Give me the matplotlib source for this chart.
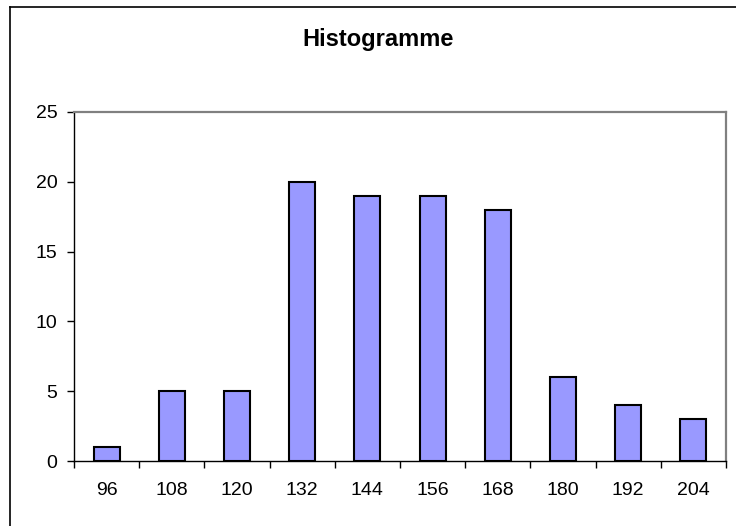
import numpy as np
import matplotlib.pyplot as plt
from matplotlib.lines import Line2D

plt.rcParams['font.family'] = ['Liberation Sans', 'DejaVu Sans']

classes = ['96', '108', '120', '132', '144', '156', '168', '180', '192', '204']
effectifs = [1, 5, 5, 20, 19, 19, 18, 6, 4, 3]

fig = plt.figure(figsize=(7.36, 5.26), dpi=100)
ax = fig.add_axes([74/736, 1 - 461/526, (726 - 74)/736, (461 - 112)/526])

x = np.arange(len(classes))
ax.bar(x, effectifs, width=0.4, color='#9999FF', edgecolor='black', linewidth=1.5, zorder=3)

ax.set_xlim(-0.5, len(classes) - 0.5)
ax.set_ylim(0, 25)
ax.set_yticks(np.arange(0, 26, 5))
ax.set_xticks(x)
ax.set_xticklabels(classes)
ax.set_xticks(np.arange(-0.5, len(classes), 1), minor=True)
ax.tick_params(axis='x', which='major', length=0, pad=15, labelsize=14)
ax.tick_params(axis='x', which='minor', length=5, width=1, direction='out')
ax.tick_params(axis='y', length=5, width=1, pad=7, labelsize=14)

for s in ['left', 'bottom']:
    ax.spines[s].set_color('black')
    ax.spines[s].set_linewidth(1)
for s in ['top', 'right']:
    ax.spines[s].set_color('#808080')
    ax.spines[s].set_linewidth(1.6)

fig.text(378/736, 1 - 46/526, 'Histogramme', ha='center', va='baseline',
         fontsize=17, fontweight='bold')

# cadre du graphique (coupe a droite et en bas)
fig.add_artist(Line2D([10/736, 1], [1 - 7/526, 1 - 7/526], color='black', lw=1.2,
                      transform=fig.transFigure))
fig.add_artist(Line2D([10/736, 10/736], [0, 1 - 7/526], color='black', lw=1.2,
                      transform=fig.transFigure))

fig.savefig('out.png', dpi=100)
